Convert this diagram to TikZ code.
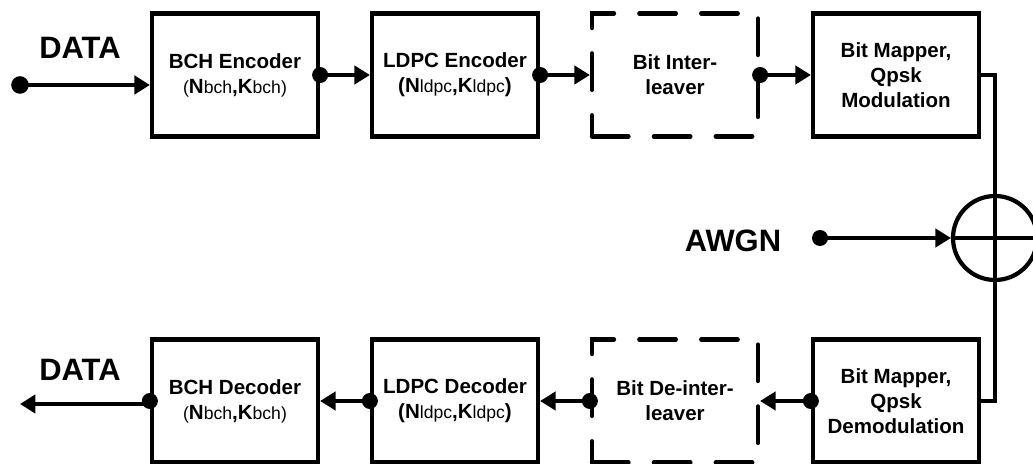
\documentclass[tikz,border=0pt]{standalone}
\usepackage{fontspec}
\setmainfont{Liberation Sans}
\usetikzlibrary{arrows.meta}
\newcommand{\sbs}[1]{{\mdseries\fontsize{12.5}{17.7}\selectfont #1}}

\begin{document}
\begin{tikzpicture}[x=0.025cm, y=-0.025cm, >={Triangle[length=11pt,width=13pt]},
    blk/.style={draw, line width=3pt, minimum width=4.15cm, minimum height=3.075cm,
        align=center, inner sep=0pt, font=\bfseries\fontsize{14.6}{17.7}\selectfont},
    dblk/.style={blk, dash pattern=on 26pt off 18pt, line cap=round},
    wire/.style={line width=2.3pt},
    bigwire/.style={line width=3.3pt},
    lbl/.style={font=\bfseries\fontsize{22}{24}\selectfont},
    dot/.style={fill=black}]
\useasboundingbox (0,0) rectangle (1033,464);

% transmitter
\begin{scope}
    \node[blk] (bche) at (235,75) {BCH Encoder\\\sbs{(}N\sbs{bch},K\sbs{bch}\sbs{)}};
    \node[blk] (ldpce) at (455,75) {LDPC Encoder\\(N\sbs{ldpc},K\sbs{ldpc})};
    \node[dblk] (intl) at (675,75) {Bit Inter-\\leaver};
    \node[blk] (mapm) at (896,75) {Bit Mapper,\\Qpsk\\Modulation};
    \node[lbl] (din) at (80,48) {DATA};
    \coordinate (src) at (20,85);

    \draw[bigwire,->] (src) -- (bche.west |- src);
    \draw[wire,->] (bche.east) -- (ldpce.west);
    \draw[wire,->] (ldpce.east) -- (intl.west);
    \draw[wire,->] (intl.east) -- (mapm.west);
\foreach \n in {bche,ldpce,intl}
{
    \fill[dot] (\n.east) circle (0.2cm);
}
    \fill[dot] (src) circle (0.22cm);
\end{scope}

% channel
\begin{scope}
    \node[draw, circle, line width=3pt, minimum size=2.1cm, inner sep=0pt] (sum) at (995,238) {};
    \node[lbl] (awgn) at (733,241) {AWGN};
    \coordinate (noise) at (820,238);
    \coordinate (rim) at (1033,238);

    \draw[wire] (mapm.east) -| (sum.north);
    \draw[wire] (sum.north) -- (sum.south);
    \draw[wire,->] (noise) -- (sum.west);
    \draw[wire] (sum.west) -- (rim);
    \fill[dot] (noise) circle (0.2cm);
\end{scope}

% receiver
\begin{scope}
    \node[blk] (bchd) at (235,401) {BCH Decoder\\\sbs{(}N\sbs{bch},K\sbs{bch}\sbs{)}};
    \node[blk] (ldpcd) at (455,401) {LDPC Decoder\\(N\sbs{ldpc},K\sbs{ldpc})};
    \node[dblk] (dintl) at (675,401) {Bit De-inter-\\leaver};
    \node[blk] (demod) at (896,401) {Bit Mapper,\\Qpsk\\Demodulation};
    \node[lbl] (dout) at (80,370) {DATA};
    \coordinate (sink) at (20,404);

    \draw[wire] (sum.south) |- (demod.east);
    \draw[wire,->] (demod.west) -- (dintl.east);
    \draw[wire,->] (dintl.west) -- (ldpcd.east);
    \draw[wire,->] (ldpcd.west) -- (bchd.east);
    \draw[bigwire,->] (bchd.west |- sink) -- (sink);
\foreach \n in {demod,dintl,ldpcd,bchd}
{
    \fill[dot] (\n.west) circle (0.2cm);
}
\end{scope}

\end{tikzpicture}
\end{document}
